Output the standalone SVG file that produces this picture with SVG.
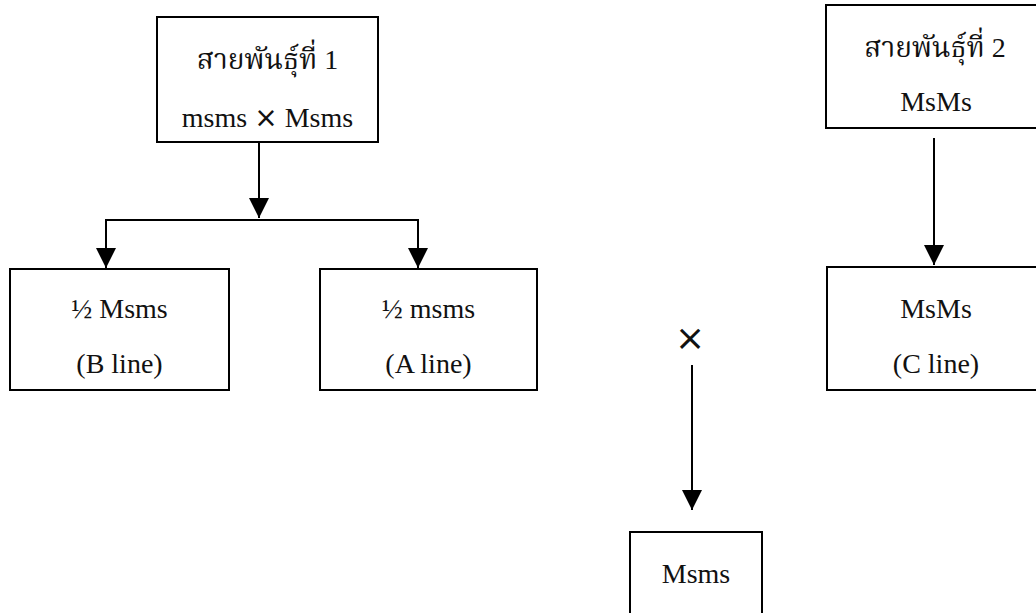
<svg xmlns="http://www.w3.org/2000/svg" width="1036" height="613" viewBox="0 0 1036 613">
<style>
  .box { fill: #ffffff; stroke: #000000; stroke-width: 2; }
  .t { font-family: "Liberation Serif", "Noto Serif Thai", "Noto Sans Thai", "DejaVu Serif", serif; font-size: 28px; fill: #111111; text-anchor: middle; }
  .th { font-size: 28px; }
  .x { font-family: "DejaVu Sans", "Liberation Sans", sans-serif; font-size: 28px; }
  .xb { font-size: 36px; }
  .c { fill: none; stroke: #000000; stroke-width: 2; }
  .ca { fill: none; stroke: #000000; stroke-width: 2; marker-end: url(#ah); }
</style>
<defs>
  <marker id="ah" markerUnits="userSpaceOnUse" markerWidth="20" markerHeight="20" refX="20" refY="10" orient="auto" viewBox="0 0 20 20">
    <path d="M0,0 L20,10 L0,20 z" fill="#000000"/>
  </marker>
</defs>
<rect width="1036" height="613" fill="#ffffff"/>
<g id="connectors">
  <line class="ca" x1="259" y1="142" x2="259" y2="218"/>
  <line class="c" x1="105" y1="220" x2="419" y2="220"/>
  <line class="ca" x1="106" y1="220" x2="106" y2="268"/>
  <line class="ca" x1="418" y1="220" x2="418" y2="268"/>
  <line class="ca" x1="934" y1="138" x2="934" y2="265"/>
  <line class="ca" x1="692" y1="365" x2="692" y2="510"/>
</g>
<g id="line1">
  <rect class="box" x="157" y="17" width="221" height="125"/>
  <text class="t th" x="267.5" y="69">สายพันธุ์ที่ 1</text>
  <text class="t" x="267.5" y="127">msms <tspan class="x">×</tspan> Msms</text>
</g>
<g id="line2">
  <rect class="box" x="826" y="5" width="220" height="123"/>
  <text class="t th" x="935" y="57">สายพันธุ์ที่ 2</text>
  <text class="t" x="936" y="111">MsMs</text>
</g>
<g id="bline">
  <rect class="box" x="10" y="269" width="219" height="121"/>
  <text class="t" x="119.5" y="318">½ Msms</text>
  <text class="t" x="119.5" y="373">(B line)</text>
</g>
<g id="aline">
  <rect class="box" x="320" y="269" width="217" height="121"/>
  <text class="t" x="428.5" y="318">½ msms</text>
  <text class="t" x="428.5" y="373">(A line)</text>
</g>
<g id="cline">
  <rect class="box" x="827" y="267" width="220" height="123"/>
  <text class="t" x="936" y="318">MsMs</text>
  <text class="t" x="936" y="373">(C line)</text>
</g>
<g id="cross">
  <text class="t x xb" x="690" y="350">×</text>
</g>
<g id="offspring">
  <rect class="box" x="630" y="532" width="132" height="90"/>
  <text class="t" x="696" y="583">Msms</text>
</g>
</svg>
